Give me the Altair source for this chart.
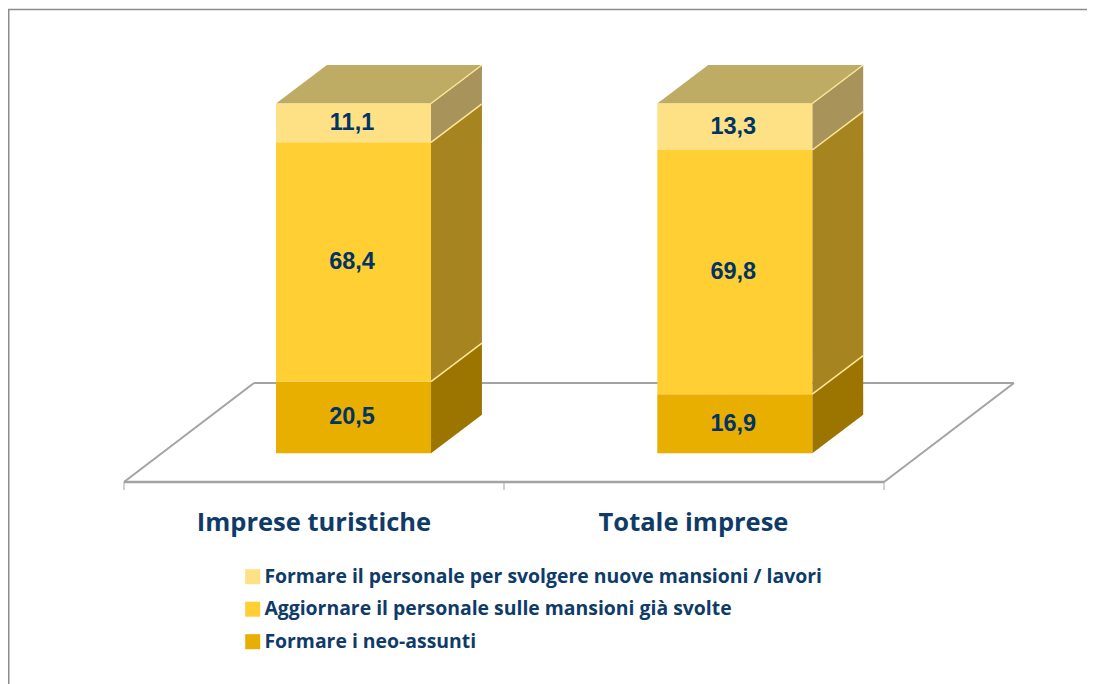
import altair as alt
import pandas as pd

categories = ["Imprese turistiche", "Totale imprese"]
series = ["Formare il personale per svolgere nuove mansioni / lavori",
          "Aggiornare il personale sulle mansioni già svolte",
          "Formare i neo-assunti"]
neo_assunti = [20.5, 16.9]
aggiornare = [68.4, 69.8]
nuove_mansioni = [11.1, 13.3]
front_colors = ["#FEE085", "#FFCF33", "#E8AE00"]
side_colors = ["#A8935A", "#A68420", "#9C7400"]
top_color = "#BEAB64"
edge_color = "#FDE69A"
floor_color = "#A3A3A3"
text_color = "#003366"
label_color = "#0F3B69"

# chart geometry in scale units: one category slot = 1 on x, percent on y
bar_left = [0.4, 1.4034]
bar_width = 0.4079
depth_x = 0.134
depth_y = 11.0
floor_front, floor_back = -8.2, 20.1
floor_shift = 0.342

W, H = 1079, 676
xs = alt.Scale(domain=[-0.30526, 2.5342], nice=False, zero=False)
ys = alt.Scale(domain=[-65.95, 127.3], nice=False, zero=False)
X = lambda f: alt.X(f, type="quantitative", scale=xs, axis=None)
Y = lambda f: alt.Y(f, type="quantitative", scale=ys, axis=None)

front, side, edges, labels = [], [], [], []
for c, cat in enumerate(categories):
    base = 0.0
    l, r = bar_left[c], bar_left[c] + bar_width
    stack = [(2, neo_assunti[c]), (1, aggiornare[c]), (0, nuove_mansioni[c])]
    for s, v in stack:
        top = base + v
        front.append(dict(x=l, x2=r, y=base, y2=top, s=series[s]))
        key = f"{c}-{s}"
        side.append(dict(k=key, x=r, y=base, y2=top, col=side_colors[s]))
        side.append(dict(k=key, x=r + depth_x, y=base + depth_y, y2=top + depth_y, col=side_colors[s]))
        edges.append(dict(x=r, x2=r + depth_x, y=top, y2=top + depth_y))
        labels.append(dict(x=(l + r) / 2, y=(base + top) / 2, t=f"{v:.1f}".replace(".", ",")))
        base = top

top_df = []
for c in range(2):
    l, r = bar_left[c], bar_left[c] + bar_width
    top_df.append(dict(k=c, y=100.0, x=l, x2=r))
    top_df.append(dict(k=c, y=100.0 + depth_y, x=l + depth_x, x2=r + depth_x))

floor = [
    dict(x=floor_shift, x2=2 + floor_shift, y=floor_back, y2=floor_back, w=2),
    dict(x=0, x2=floor_shift, y=floor_front, y2=floor_back, w=2),
    dict(x=2, x2=2 + floor_shift, y=floor_front, y2=floor_back, w=2),
    dict(x=0, x2=2, y=floor_front, y2=floor_front, w=2.5),
    dict(x=0, x2=0, y=floor_front, y2=floor_front - 2.3, w=1),
    dict(x=1, x2=1, y=floor_front, y2=floor_front - 2.3, w=1),
    dict(x=2, x2=2, y=floor_front, y2=floor_front - 2.3, w=1),
]
cat_df = pd.DataFrame(dict(x=[0.5, 1.4987], y=[-19.8, -19.8], t=categories))

frame_left = alt.Chart(pd.DataFrame(dict(a=[0]))).mark_rule(color="#8C8C8C", strokeWidth=1.5).encode(
    x=alt.value(0.75), y=alt.value(1.5), y2=alt.value(H))
frame_top = alt.Chart(pd.DataFrame(dict(a=[0]))).mark_rule(color="#8C8C8C", strokeWidth=1.5).encode(
    x=alt.value(0), x2=alt.value(W), y=alt.value(1.5))

floor_layer = alt.Chart(pd.DataFrame(floor)).mark_rule(color=floor_color).encode(
    x=X("x"), x2="x2", y=Y("y"), y2="y2",
    strokeWidth=alt.StrokeWidth("w:Q", scale=None))

front_layer = alt.Chart(pd.DataFrame(front)).mark_rect().encode(
    x=X("x"), x2="x2", y=Y("y"), y2="y2",
    color=alt.Color("s:N", scale=alt.Scale(domain=series, range=front_colors),
                    legend=alt.Legend(orient="none", legendX=235, legendY=559, title=None,
                                      symbolType="square", symbolSize=225, symbolStrokeWidth=0,
                                      labelFont="Open Sans", labelFontSize=19.4, labelFontWeight="bold",
                                      labelColor=label_color, labelLimit=800, rowPadding=11.5,
                                      labelOffset=2)))

side_df = pd.DataFrame(side)
side_layer = alt.Chart(side_df).mark_area(orient="vertical").encode(
    x=X("x"), y=Y("y"), y2="y2", detail="k:N",
    color=alt.Color("col:N", scale=None))

top_layer = alt.Chart(pd.DataFrame(top_df)).mark_area(orient="horizontal", color=top_color).encode(
    y=Y("y"), x=X("x"), x2="x2", detail="k:N")

edge_layer = alt.Chart(pd.DataFrame(edges)).mark_rule(color=edge_color, strokeWidth=1.5).encode(
    x=X("x"), x2="x2", y=Y("y"), y2="y2")

value_layer = alt.Chart(pd.DataFrame(labels)).mark_text(
    font="Liberation Sans", fontSize=23.5, fontWeight="bold", color=text_color, dx=-1.5).encode(
    x=X("x"), y=Y("y"), text="t:N")

cat_layer = alt.Chart(cat_df).mark_text(
    font="Open Sans", fontSize=25.5, fontWeight="bold", color=label_color).encode(
    x=X("x"), y=Y("y"), text="t:N")

chart = alt.layer(frame_left, frame_top, floor_layer, side_layer, top_layer, front_layer,
                  edge_layer, value_layer, cat_layer).properties(
    width=W, height=H, padding=0, autosize=alt.AutoSizeParams(type="none"),
    background="white").configure_view(stroke=None)

chart.save("out.html", embed_options={"renderer": "svg", "actions": False})
